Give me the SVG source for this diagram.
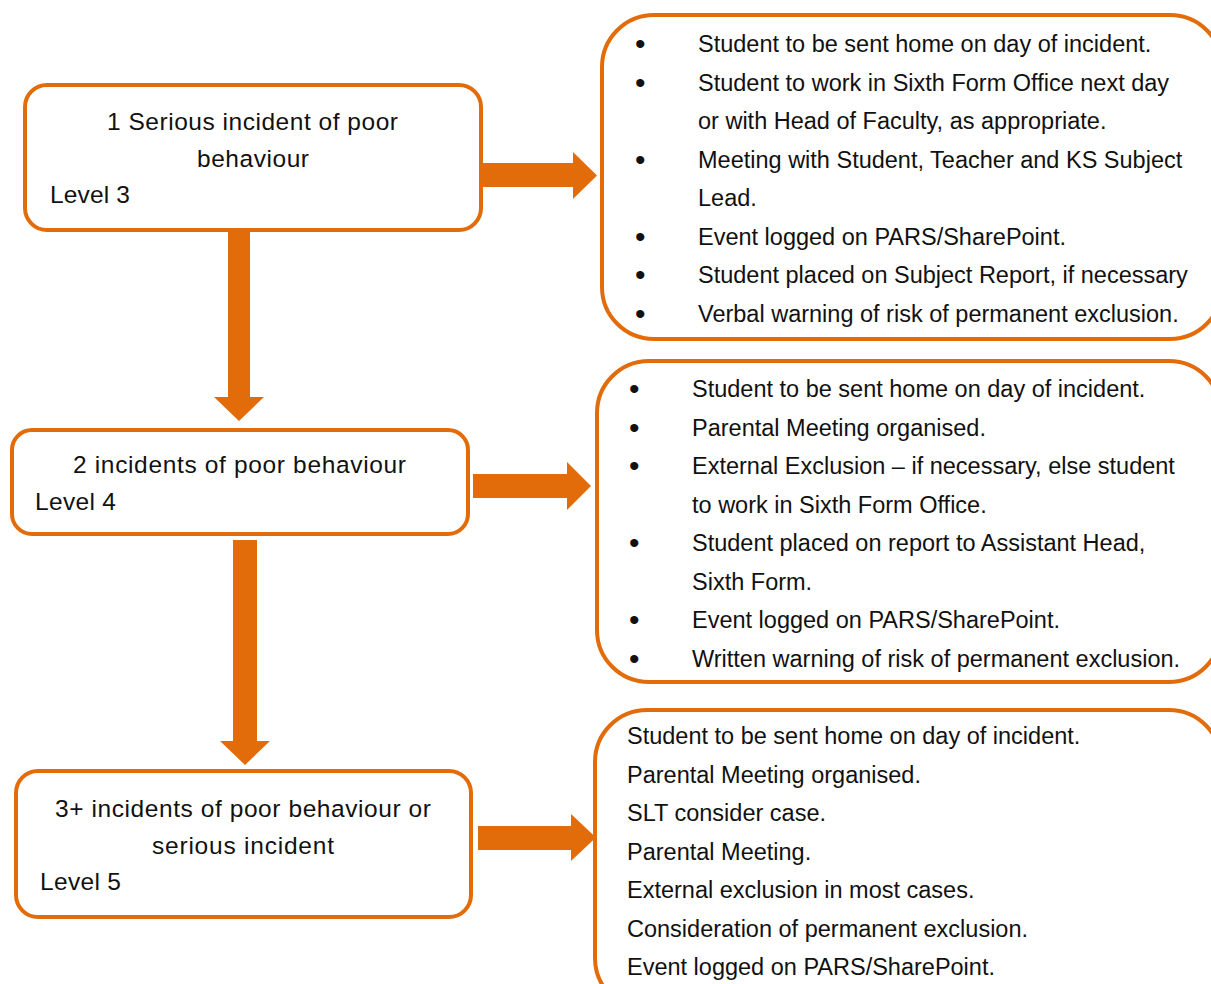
<svg xmlns="http://www.w3.org/2000/svg" width="1211" height="984" viewBox="0 0 1211 984">
<style>
.box{fill:#fff;stroke:#E36C0A;stroke-width:4}
.arr{fill:#E36C0A}
text{font-family:"Liberation Sans",Arial,sans-serif;font-size:23.5px;fill:#111}
.c{text-anchor:middle}
.l{font-size:24.5px}
.b{font-size:30px}
</style>
<rect width="1211" height="984" fill="#fff"/>
<g id="connectors">
<polygon class="arr" points="228,230 250,230 250,397 264,397 239,421 214,397 228,397"/>
<polygon class="arr" points="233,540 257,540 257,741 270,741 245,765 220,741 233,741"/>
<polygon class="arr" points="483,163 573,163 573,152 597,175.5 573,199 573,187 483,187"/>
<polygon class="arr" points="473,474 567,474 567,462 591,486 567,510 567,498 473,498"/>
<polygon class="arr" points="478,826 571,826 571,814 596,837.5 571,861 571,850 478,850"/>
</g>
<g id="level3">
<rect class="box" x="25" y="85" width="456" height="145" rx="22"/>
<text class="c l" x="252.5" y="130" textLength="291" lengthAdjust="spacing">1 Serious incident of poor</text>
<text class="c l" x="253" y="167" textLength="112" lengthAdjust="spacing">behaviour</text>
<text class="l" x="50" y="203" textLength="80" lengthAdjust="spacing">Level 3</text>
</g>
<g id="level4">
<rect class="box" x="12" y="430" width="456" height="104" rx="20"/>
<text class="c l" x="239.5" y="473" textLength="333" lengthAdjust="spacing">2 incidents of poor behaviour</text>
<text class="l" x="35" y="510" textLength="81" lengthAdjust="spacing">Level 4</text>
</g>
<g id="level5">
<rect class="box" x="16" y="771" width="455" height="146" rx="22"/>
<text class="c l" x="243" y="817" textLength="376" lengthAdjust="spacing">3+ incidents of poor behaviour or</text>
<text class="c l" x="243" y="854" textLength="182" lengthAdjust="spacing">serious incident</text>
<text class="l" x="40" y="890" textLength="81" lengthAdjust="spacing">Level 5</text>
</g>
<g id="actions3">
<rect class="box" x="602" y="15" width="620" height="324" rx="52"/>
<text class="b" x="635" y="54">•</text><text x="698" y="52">Student to be sent home on day of incident.</text>
<text class="b" x="635" y="92.5">•</text><text x="698" y="90.5">Student to work in Sixth Form Office next day</text>
<text x="698" y="129">or with Head of Faculty, as appropriate.</text>
<text class="b" x="635" y="169.5">•</text><text x="698" y="167.5">Meeting with Student, Teacher and KS Subject</text>
<text x="698" y="206">Lead.</text>
<text class="b" x="635" y="246.5">•</text><text x="698" y="244.5">Event logged on PARS/SharePoint.</text>
<text class="b" x="635" y="285">•</text><text x="698" y="283">Student placed on Subject Report, if necessary</text>
<text class="b" x="635" y="323.5">•</text><text x="698" y="321.5">Verbal warning of risk of permanent exclusion.</text>
</g>
<g id="actions4">
<rect class="box" x="597" y="361" width="624" height="321" rx="52"/>
<text class="b" x="629" y="399">•</text><text x="692" y="397">Student to be sent home on day of incident.</text>
<text class="b" x="629" y="438">•</text><text x="692" y="436">Parental Meeting organised.</text>
<text class="b" x="629" y="476">•</text><text x="692" y="474">External Exclusion – if necessary, else student</text>
<text x="692" y="513">to work in Sixth Form Office.</text>
<text class="b" x="629" y="553">•</text><text x="692" y="551">Student placed on report to Assistant Head,</text>
<text x="692" y="590">Sixth Form.</text>
<text class="b" x="629" y="630">•</text><text x="692" y="628">Event logged on PARS/SharePoint.</text>
<text class="b" x="629" y="669">•</text><text x="692" y="667">Written warning of risk of permanent exclusion.</text>
</g>
<g id="actions5">
<rect class="box" x="595" y="710" width="626" height="300" rx="52"/>
<text x="627" y="744">Student to be sent home on day of incident.</text>
<text x="627" y="783">Parental Meeting organised.</text>
<text x="627" y="821">SLT consider case.</text>
<text x="627" y="860">Parental Meeting.</text>
<text x="627" y="898">External exclusion in most cases.</text>
<text x="627" y="937">Consideration of permanent exclusion.</text>
<text x="627" y="975">Event logged on PARS/SharePoint.</text>
</g>
</svg>
